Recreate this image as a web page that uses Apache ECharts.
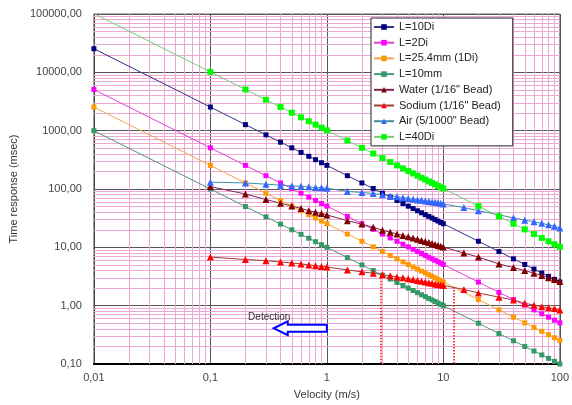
<!DOCTYPE html>
<html>
<head>
<meta charset="utf-8">
<script src="https://cdn.jsdelivr.net/npm/echarts@6/dist/echarts.min.js"></script>
<style>
html, body { margin: 0; padding: 0; background: #fff; }
#chart { width: 572px; height: 405px; }
</style>
</head>
<body>
<div id="chart"></div>
<script>
// velocities (m/s)
var velSquares = [0.01, 0.1, 0.2, 0.3, 0.4, 0.5, 0.6, 0.7, 0.8, 0.9, 1, 1.5, 2, 2.5, 3, 3.5, 4, 4.5, 5, 5.5, 6, 6.5, 7, 7.5, 8, 8.5, 9, 9.5, 10, 20, 30, 40, 50, 60, 70, 80, 90, 100];
var velTriangles = [0.1, 0.2, 0.3, 0.4, 0.5, 0.6, 0.7, 0.8, 0.9, 1, 1.5, 2, 2.5, 3, 3.5, 4, 4.5, 5, 5.5, 6, 6.5, 7, 7.5, 8, 8.5, 9, 9.5, 10, 15, 20, 30, 40, 50, 60, 70, 80, 90, 100];

// time response (msec)
var l10Di = [25400, 2540, 1270, 847, 635, 508, 423, 363, 318, 282, 254, 169, 127, 102, 84.7, 72.6, 63.5, 56.4, 50.8, 46.2, 42.3, 39.1, 36.3, 33.9, 31.8, 29.9, 28.2, 26.7, 25.4, 12.7, 8.47, 6.35, 5.08, 4.23, 3.63, 3.18, 2.82, 2.54];
var l2Di = [5080, 508, 254, 169, 127, 102, 84.7, 72.6, 63.5, 56.4, 50.8, 33.9, 25.4, 20.3, 16.9, 14.5, 12.7, 11.3, 10.2, 9.24, 8.47, 7.82, 7.26, 6.77, 6.35, 5.98, 5.64, 5.35, 5.08, 2.54, 1.69, 1.27, 1.02, 0.847, 0.726, 0.635, 0.564, 0.508];
var l25mm = [2540, 254, 127, 84.7, 63.5, 50.8, 42.3, 36.3, 31.8, 28.2, 25.4, 16.9, 12.7, 10.2, 8.47, 7.26, 6.35, 5.64, 5.08, 4.62, 4.23, 3.91, 3.63, 3.39, 3.18, 2.99, 2.82, 2.67, 2.54, 1.27, 0.847, 0.635, 0.508, 0.423, 0.363, 0.318, 0.282, 0.254];
var l10mm = [1000, 100, 50, 33.3, 25, 20, 16.7, 14.3, 12.5, 11.1, 10, 6.67, 5, 4, 3.33, 2.86, 2.5, 2.22, 2, 1.82, 1.67, 1.54, 1.43, 1.33, 1.25, 1.18, 1.11, 1.05, 1, 0.5, 0.333, 0.25, 0.2, 0.167, 0.143, 0.125, 0.111, 0.1];
var l40Di = [101600, 10160, 5080, 3387, 2540, 2032, 1693, 1451, 1270, 1129, 1016, 677, 508, 406, 339, 290, 254, 226, 203, 185, 169, 156, 145, 135, 127, 120, 113, 107, 102, 50.8, 33.9, 25.4, 20.3, 16.9, 14.5, 12.7, 11.3, 10.2];
var water = [110, 82, 66, 57, 51, 46.5, 42.5, 40, 38, 36, 28.6, 25, 22, 19.7, 18.1, 17, 16, 15.2, 14.4, 13.8, 13.1, 12.6, 12.1, 11.6, 11.2, 10.8, 10.4, 10.1, 8.0, 6.8, 5.2, 4.5, 4.0, 3.6, 3.3, 3.0, 2.8, 2.6];
var sodium = [6.8, 6.2, 5.9, 5.6, 5.4, 5.2, 5.0, 4.85, 4.7, 4.6, 4.1, 3.8, 3.6, 3.4, 3.25, 3.1, 3.0, 2.9, 2.8, 2.7, 2.62, 2.55, 2.48, 2.42, 2.36, 2.31, 2.27, 2.22, 1.9, 1.65, 1.4, 1.25, 1.1, 1.02, 0.96, 0.92, 0.89, 0.84];
var air = [131, 127, 121, 116, 113, 111, 109, 106, 105, 103, 91, 87, 84, 80, 76, 74, 71, 69, 67, 65, 64, 62.5, 61, 60, 59, 58, 57, 55.5, 48, 42.5, 36, 32, 29.2, 27.5, 25.8, 24.3, 23, 21.5];

// detection limits (velocity, response on sodium curve)
var detectLines = [[2.9, 3.4], [12.2, 2.08]];

var names = ['L=10Di', 'L=2Di', 'L=25.4mm (1Di)', 'L=10mm', 'Water (1/16" Bead)', 'Sodium (1/16" Bead)', 'Air (5/1000" Bead)', 'L=40Di'];

var FONT = 'Liberation Sans, Arial, sans-serif';
var PINK = '#eaa8d2';

function pairs(xs, ys) {
	var out = [];
	for (var i = 0; i < xs.length; i++) out.push([xs[i], ys[i]]);
	return out;
}

// minor grid lines (2..9 within each decade)
var xMinor = [], yMinor = [];
[0.01, 0.1, 1, 10].forEach(function (d) {
	for (var m = 2; m <= 9; m++) xMinor.push({ xAxis: +(d * m).toPrecision(3) });
});
[0.1, 1, 10, 100, 1000, 10000].forEach(function (d) {
	for (var m = 2; m <= 9; m++) yMinor.push({ yAxis: +(d * m).toPrecision(3) });
});

function lineSeries(name, xs, ys, symbol, size, markColor, lineColor) {
	return {
		name: name,
		type: 'line',
		data: pairs(xs, ys),
		symbol: symbol,
		symbolSize: size,
		showAllSymbol: true,
		clip: true,
		z: 3,
		itemStyle: { color: markColor },
		lineStyle: { color: lineColor, width: 1 }
	};
}

var chart = echarts.init(document.getElementById('chart'));

var sodiumSeries = lineSeries(names[5], velTriangles, sodium, 'triangle', 7, '#ff0000', '#a33a3a');
sodiumSeries.markLine = {
	silent: true,
	symbol: ['none', 'none'],
	label: { show: false },
	lineStyle: { color: '#ff0000', type: 'dotted', width: 1.5 },
	data: detectLines.map(function (p) {
		return [{ coord: [p[0], p[1]] }, { coord: [p[0], 0.1] }];
	})
};

var option = {
	animation: false,
	backgroundColor: '#fff',
	grid: {
		left: 93, right: 11, top: 14, bottom: 38,
		show: true, borderColor: '#666', borderWidth: 1, backgroundColor: '#fff'
	},
	legend: {
		orient: 'vertical',
		left: 371, top: 18,
		data: names,
		itemWidth: 20, itemHeight: 7, itemGap: 1.7,
		padding: [2, 12, 2, 2],
		backgroundColor: '#fff',
		borderColor: '#222', borderWidth: 1, borderRadius: 0,
		textStyle: { fontFamily: FONT, fontSize: 11, color: '#222', lineHeight: 14, padding: [0, 0, 0, 0] }
	},
	xAxis: {
		type: 'log', logBase: 10, min: 0.01, max: 100,
		name: 'Velocity (m/s)', nameLocation: 'middle', nameGap: 25,
		nameTextStyle: { fontFamily: FONT, fontSize: 11, color: '#333' },
		axisLine: { show: true, lineStyle: { color: '#000', width: 2 } },
		axisTick: { show: false },
		axisLabel: {
			fontFamily: FONT, fontSize: 11, color: '#444', margin: 8,
			formatter: function (v) { return String(+v.toPrecision(4)).replace('.', ','); }
		},
		splitLine: { show: true, lineStyle: { color: '#555', width: 1 } }
	},
	yAxis: {
		type: 'log', logBase: 10, min: 0.1, max: 100000,
		name: 'Time response (msec)', nameLocation: 'middle', nameGap: 68,
		nameTextStyle: { fontFamily: FONT, fontSize: 11, color: '#333' },
		axisLine: { show: true, lineStyle: { color: '#444', width: 1 } },
		axisTick: { show: false },
		axisLabel: {
			fontFamily: FONT, fontSize: 11, color: '#444', margin: 12,
			formatter: function (v) { return (+v.toPrecision(4)).toFixed(2).replace('.', ','); }
		},
		splitLine: { show: true, lineStyle: { color: '#555', width: 1 } }
	},
	series: [
		{
			type: 'line', data: [], silent: true, z: 1,
			markLine: {
				silent: true, z: 1, animation: false,
				symbol: ['none', 'none'],
				label: { show: false },
				lineStyle: { color: PINK, type: 'solid', width: 1 },
				data: xMinor.concat(yMinor)
			}
		},
		lineSeries(names[0], velSquares, l10Di, 'rect', 5, '#000080', '#34347f'),
		lineSeries(names[1], velSquares, l2Di, 'rect', 5, '#ff00ff', '#e040d0'),
		lineSeries(names[2], velSquares, l25mm, 'rect', 5, '#ff9900', '#f2a54a'),
		lineSeries(names[3], velSquares, l10mm, 'rect', 5, '#339966', '#4a9a7c'),
		lineSeries(names[4], velTriangles, water, 'triangle', 7, '#800000', '#7d2550'),
		sodiumSeries,
		lineSeries(names[6], velTriangles, air, 'triangle', 7, '#3366ff', '#3a90a8'),
		lineSeries(names[7], velSquares, l40Di, 'rect', 6, '#00ff00', '#74cc74')
	]
};

chart.setOption(option);

// "Detection" note with hollow arrow pointing to lower velocity
var arrowTip = chart.convertToPixel({ xAxisIndex: 0, yAxisIndex: 0 }, [0.35, 0.41]);
var arrowTail = chart.convertToPixel({ xAxisIndex: 0, yAxisIndex: 0 }, [1.0, 0.41]);
var textPos = chart.convertToPixel({ xAxisIndex: 0, yAxisIndex: 0 }, [0.32, 0.63]);
var tx = arrowTip[0], ty = arrowTip[1], ex = arrowTail[0], hx = tx + 14;

chart.setOption({
	graphic: [
		{
			type: 'polygon', z: 10,
			shape: { points: [[tx, ty], [hx, ty - 7], [hx, ty - 3.5], [ex, ty - 3.5], [ex, ty + 3.5], [hx, ty + 3.5], [hx, ty + 7]] },
			style: { fill: '#fff', stroke: '#0000ff', lineWidth: 2 }
		},
		{
			type: 'text', z: 10, x: textPos[0], y: textPos[1],
			style: { text: 'Detection', fill: '#333', font: '10px ' + FONT, align: 'center', verticalAlign: 'middle' }
		}
	]
});
</script>
</body>
</html>
